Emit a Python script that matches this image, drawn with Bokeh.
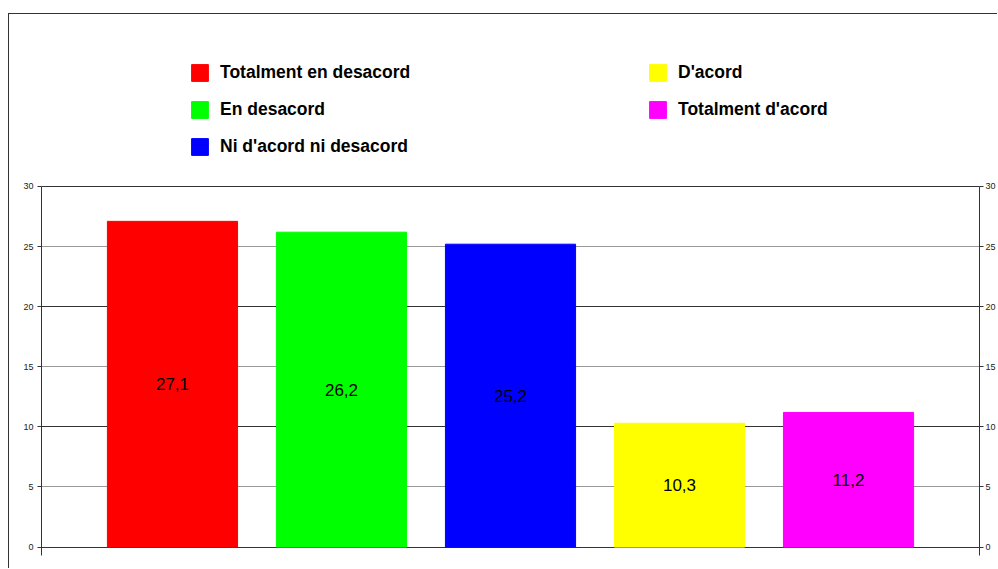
from bokeh.plotting import figure
from bokeh.models import (ColumnDataSource, FactorRange, Range1d, LinearAxis,
                          FixedTicker, Grid)
from bokeh.core.properties import value
from bokeh.embed import file_html
from bokeh.resources import INLINE

categories = ["Totalment en desacord", "En desacord", "Ni d'acord ni desacord",
              "D'acord", "Totalment d'acord"]
values = [27.1, 26.2, 25.2, 10.3, 11.2]
colors = ["#ff0000", "#00ff00", "#0000ff", "#ffff00", "#ff00ff"]
y_ticks = [0, 5, 10, 15, 20, 25, 30]

labels = [f"{v:.1f}".replace(".", ",") for v in values]
src = ColumnDataSource(dict(cat=categories, val=values, col=colors,
                            lab=labels, mid=[v / 2 for v in values]))

p = figure(width=989, height=555, output_backend="svg", toolbar_location=None,
           x_range=FactorRange(factors=categories, range_padding=0.11),
           y_range=Range1d(-0.7, 44.31),
           x_axis_location=None, y_axis_location="left",
           min_border_left=32, min_border_right=19, min_border_top=0,
           min_border_bottom=14)
p.margin = (13, 0, 0, 8)
p.styles = {"border-top": "1px solid #333", "border-left": "1px solid #333"}
p.outline_line_color = None
p.background_fill_color = "white"
p.border_fill_color = "white"
p.ygrid.grid_line_color = None
p.xgrid.grid_line_color = None

# gridlines
dark = Grid(dimension=1, ticker=FixedTicker(ticks=[0, 10, 20, 30]),
            grid_line_color="#333333", grid_line_width=1)
light = Grid(dimension=1, ticker=FixedTicker(ticks=[5, 15, 25]),
             grid_line_color="#999999", grid_line_width=1)
p.add_layout(dark)
p.add_layout(light)

def style_axis(ax, standoff):
    ax.ticker = FixedTicker(ticks=y_ticks)
    ax.bounds = (-0.7, 30)
    ax.axis_line_color = "#333333"
    ax.major_tick_line_color = "#333333"
    ax.major_tick_out = 4
    ax.major_tick_in = 0
    ax.minor_tick_line_color = None
    ax.major_label_text_font = "Liberation Sans"
    ax.major_label_text_font_size = "9px"
    ax.major_label_text_color = "#222222"
    ax.major_label_standoff = standoff

style_axis(p.yaxis[0], 4)
right = LinearAxis()
style_axis(right, 2)
p.add_layout(right, "right")

p.vbar(x="cat", top="val", width=0.77, color="col", source=src,
       legend_field="cat")
p.text(x="cat", y="mid", text="lab", source=src, text_align="center",
       text_baseline="middle", text_font=value("Liberation Sans"),
       text_font_size="17px", text_color="black")

lg = p.legend[0]
lg.location = (148, 398)
lg.orientation = "vertical"
lg.nrows = 3
lg.padding = 0
lg.margin = 0
lg.spacing = 16
lg.glyph_width = 21
lg.glyph_height = 21
lg.label_height = 21
lg.label_width = 411
lg.label_standoff = 10
lg.border_line_color = None
lg.background_fill_alpha = 0
lg.label_text_font = "Liberation Sans"
lg.label_text_font_style = "bold"
lg.label_text_font_size = "17.5px"
lg.label_text_color = "black"
lg.label_text_baseline = "middle"

open("out.html", "w").write(file_html(p, INLINE))
